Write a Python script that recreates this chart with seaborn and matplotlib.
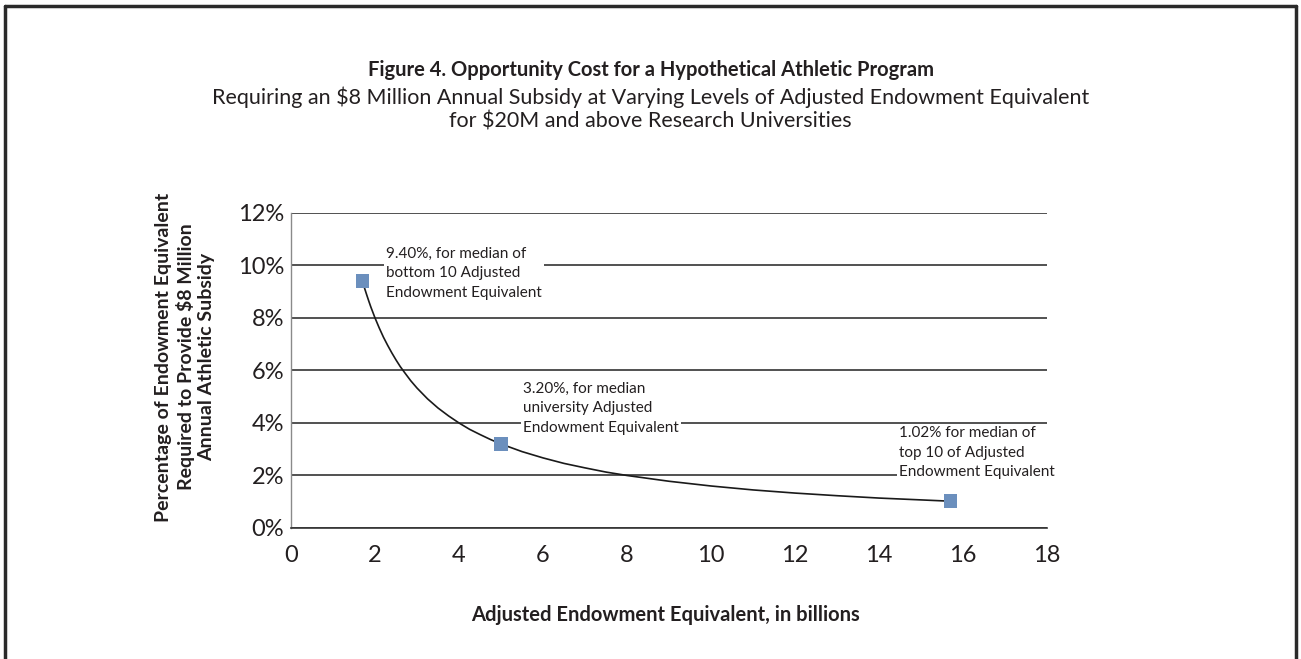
import matplotlib
matplotlib.use("Agg")
import matplotlib.pyplot as plt
from matplotlib.lines import Line2D
import seaborn as sns
import pandas as pd

# data points (adjusted endowment equivalent in billions, % of endowment)
endowment = [1.70, 5.00, 15.70]
pct_needed = [9.40, 3.20, 1.02]
point_labels = [
    "9.40%, for median of\nbottom 10 Adjusted\nEndowment Equivalent",
    "3.20%, for median\nuniversity Adjusted\nEndowment Equivalent",
    "1.02% for median of\ntop 10 of Adjusted\nEndowment Equivalent",
]

# smoothed trend line
curve_x = [1.70, 1.75, 1.80, 1.85, 1.90, 2.00, 2.10, 2.20, 2.30, 2.40, 2.50, 2.60,
           2.70, 2.85, 3.00, 3.25, 3.50, 3.75, 4.00, 4.25, 4.50, 4.75, 5.00, 5.50,
           6.00, 6.50, 7.00, 7.50, 8.00, 9.00, 10.0, 11.0, 12.0, 13.0, 14.0, 15.0, 15.70]
curve_y = [9.40, 9.14, 8.89, 8.65, 8.42, 8.00, 7.62, 7.27, 6.96, 6.67, 6.40, 6.15,
           5.93, 5.61, 5.33, 4.92, 4.57, 4.27, 4.00, 3.76, 3.56, 3.37, 3.20, 2.91,
           2.67, 2.46, 2.29, 2.13, 2.00, 1.78, 1.60, 1.45, 1.33, 1.23, 1.14, 1.07, 1.02]

x_ticks = [0, 2, 4, 6, 8, 10, 12, 14, 16, 18]
y_ticks = [0, 2, 4, 6, 8, 10, 12]
y_tick_labels = ["0%", "2%", "4%", "6%", "8%", "10%", "12%"]

points = pd.DataFrame({"endowment": endowment, "pct": pct_needed})
curve = pd.DataFrame({"x": curve_x, "y": curve_y})

sns.set_style("white")
plt.rcParams["font.family"] = ["Lato", "DejaVu Sans"]

fig = plt.figure(figsize=(13.01, 6.59), dpi=100)
ax = fig.add_axes([0.2237, 0.1988, 0.5811, 0.4780])

sns.lineplot(data=curve, x="x", y="y", ax=ax, color="#1a1a1a", linewidth=1.2,
             sort=False, estimator=None, zorder=4)
sns.scatterplot(data=points, x="endowment", y="pct", ax=ax, marker="s", s=95,
                color="#6b8fbd", edgecolor="none", zorder=5)

ax.set_xlim(0, 18)
ax.set_ylim(0, 12)
ax.set_xticks(x_ticks)
ax.set_xticklabels([str(t) for t in x_ticks], fontsize=17, color="#231f20")
ax.set_yticks(y_ticks)
ax.set_yticklabels(y_tick_labels, fontsize=17, color="#231f20")
ax.tick_params(axis="x", direction="out", length=4, width=1, color="#333333", pad=8)
ax.tick_params(axis="y", direction="out", length=3, width=1, color="#888888", pad=2)

ax.yaxis.grid(True, color="#333333", linewidth=1.2)
ax.xaxis.grid(False)
ax.set_axisbelow(True)
for side in ["top", "right"]:
    ax.spines[side].set_visible(False)
ax.spines["left"].set_color("#8a8a8a")
ax.spines["left"].set_linewidth(1.0)
ax.spines["bottom"].set_color("#333333")
ax.spines["bottom"].set_linewidth(1.2)

ax.set_xlabel("")
ax.set_ylabel("")

# point annotations (left edge, vertical centre of block, data coords)
label_pos = [(2.26, 9.71), (5.52, 4.57), (14.48, 2.86)]
for (lx, ly), txt in zip(label_pos, point_labels):
    ax.text(lx, ly, txt, ha="left", va="center", fontsize=11, color="#231f20",
            linespacing=1.5, zorder=3, clip_on=False,
            bbox=dict(facecolor="white", edgecolor="none", pad=1.5))

# titles
fig.text(0.5, 1 - 70 / 659, "Figure 4. Opportunity Cost for a Hypothetical Athletic Program",
         ha="center", va="center", fontsize=14.5, fontweight="bold", color="#231f20")
fig.text(0.5, 1 - 97 / 659,
         "Requiring an $8 Million Annual Subsidy at Varying Levels of Adjusted Endowment Equivalent",
         ha="center", va="center", fontsize=15.5, color="#231f20")
fig.text(0.5, 1 - 121 / 659, "for $20M and above Research Universities",
         ha="center", va="center", fontsize=15.5, color="#231f20")

fig.text(185 / 1301, 1 - 357 / 659,
         "Percentage of Endowment Equivalent\nRequired to Provide $8 Million\nAnnual Athletic Subsidy",
         ha="center", va="center", rotation=90, fontsize=14, fontweight="bold",
         color="#231f20", linespacing=1.25)
fig.text(665 / 1301, 1 - 615 / 659, "Adjusted Endowment Equivalent, in billions",
         ha="center", va="center", fontsize=14.5, fontweight="bold", color="#231f20")

# frame around the figure (no bottom edge)
frame_kw = dict(color="#2a2a2a", linewidth=2.5, transform=fig.transFigure)
fig.add_artist(Line2D([5 / 1301, 5 / 1301], [0, 1 - 6 / 659], **frame_kw))
fig.add_artist(Line2D([5 / 1301, 1296 / 1301], [1 - 6 / 659, 1 - 6 / 659], **frame_kw))
fig.add_artist(Line2D([1296 / 1301, 1296 / 1301], [0, 1 - 6 / 659], **frame_kw))

fig.savefig("out.png", dpi=100, facecolor="white")
